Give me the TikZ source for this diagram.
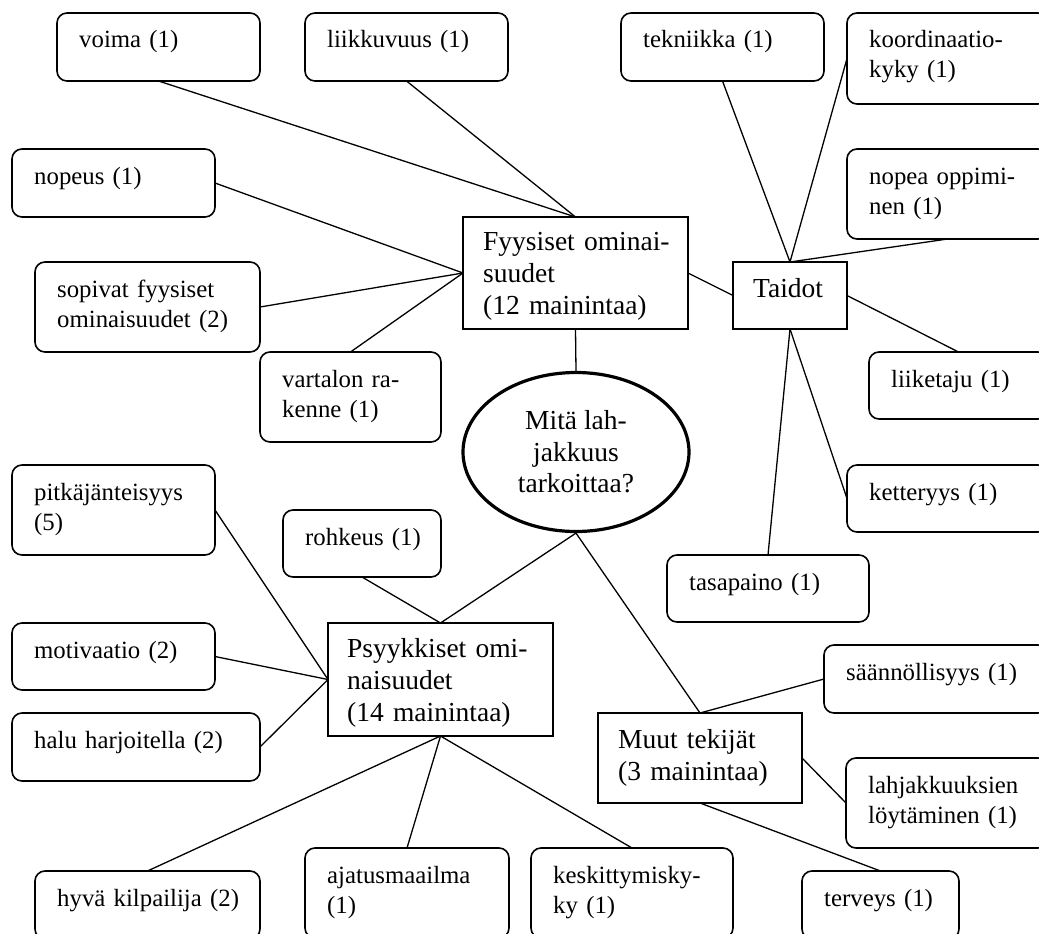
\documentclass[tikz,border=0pt]{standalone}
\usepackage{fontspec}
\setmainfont{Liberation Serif}
\usetikzlibrary{shapes.geometric}
\tikzset{
  rbox/.style={draw=black, line width=1.6pt, rounded corners=10pt, inner sep=0pt, outer sep=0pt, anchor=north west},
  sbox/.style={draw=black, line width=1.6pt, inner sep=0pt, outer sep=0pt, anchor=north west},
  smalltxt/.style={inner sep=0pt, anchor=base west, align=left, font=\fontsize{24.8}{30}\selectfont},
  bigtxt/.style={inner sep=0pt, anchor=base west, align=left, font=\fontsize{27.5}{32}\selectfont},
  conn/.style={draw=black, line width=1.3pt},
  mainq/.style={ellipse, draw=black, line width=3.2pt, inner sep=0pt, align=center, font=\fontsize{27.5}{31.5}\selectfont}
}
% name, left, top, right, bottom, text
\newcommand\roundbox[6]{%
  \node[rbox, minimum width=#4-#2, minimum height=#5-#3] (#1) at (#2,#3) {};
  \node[smalltxt, text width=#4-#2-30] (#1-t) at (#2+22,#3+35) {#6};
}
% name, left, top, right, bottom, text, xoff, yoff
\newcommand\sharpbox[8]{%
  \node[sbox, minimum width=#4-#2, minimum height=#5-#3] (#1) at (#2,#3) {};
  \node[bigtxt, text width=#4-#2-#7-4] (#1-t) at (#2+#7,#3+#8) {#6};
}
\begin{document}
\begin{tikzpicture}[x=1pt,y=-1pt]
\useasboundingbox (0,0) rectangle (1039,934);
\fill[white] (0,0) rectangle (1039,934);
\clip (0,0) rectangle (1039,934);

\roundbox{voima}{57}{13}{260}{81}{voima (1)}
\roundbox{liik}{305}{13}{508}{81}{liikkuvuus (1)}
\roundbox{tekn}{621}{13}{824}{81}{tekniikka (1)}
\roundbox{koord}{847}{13}{1048}{104}{koordinaatio-\\kyky (1)}
\roundbox{nopeus}{12}{149}{215}{217}{nopeus (1)}
\roundbox{nopea}{847}{149}{1048}{239}{nopea oppimi-\\nen (1)}
\roundbox{sopivat}{35}{262}{260}{352}{sopivat fyysiset\\ominaisuudet (2)}
\roundbox{vartalon}{260}{352}{441}{442}{vartalon ra-\\kenne (1)}
\roundbox{liiketaju}{869}{352}{1048}{419}{liiketaju (1)}
\roundbox{pitka}{12}{465}{215}{555}{pitkäjänteisyys\\(5)}
\roundbox{ketter}{847}{465}{1048}{532}{ketteryys (1)}
\roundbox{rohkeus}{283}{510}{441}{577}{rohkeus (1)}
\roundbox{tasap}{667}{555}{869}{622}{tasapaino (1)}
\roundbox{motiv}{12}{623}{215}{690}{motivaatio (2)}
\roundbox{saann}{824}{645}{1048}{713}{säännöllisyys (1)}
\roundbox{halu}{12}{713}{260}{781}{halu harjoitella (2)}
\roundbox{lahj}{846}{758}{1048}{848}{lahjakkuuksien\\löytäminen (1)}
\roundbox{ajatus}{305}{848}{509}{938}{ajatusmaailma\\(1)}
\roundbox{keskit}{531}{848}{733}{938}{keskittymisky-\\ky (1)}
\roundbox{hyva}{35}{871}{260}{939}{hyvä kilpailija (2)}
\roundbox{terveys}{802}{871}{959}{939}{terveys (1)}

\sharpbox{fyys}{463}{217}{688}{329}{Fyysiset ominai-\\suudet\\(12 mainintaa)}{20}{33}
\sharpbox{taidot}{733}{262}{847}{329}{Taidot}{20}{35}
\sharpbox{psyyk}{328}{623}{553}{736}{Psyykkiset omi-\\naisuudet\\(14 mainintaa)}{19}{34}
\sharpbox{muut}{598}{713}{802}{803}{Muut tekijät\\(3 mainintaa)}{20}{35}

\node[mainq, minimum width=226, minimum height=159] (q) at (576,452) {Mitä lah-\\jakkuus\\tarkoittaa?};

\draw[conn] (voima.south) -- (fyys.north);
\draw[conn] (liik.south) -- (fyys.north);
\draw[conn] (nopeus.east) -- (fyys.west);
\draw[conn] (sopivat.east) -- (fyys.west);
\draw[conn] (vartalon.north) -- (fyys.west);
\draw[conn] (fyys.east) -- (taidot.west);
\draw[conn] (fyys.south) -- (q.north);
\draw[conn] (tekn.south) -- (taidot.north);
\draw[conn] (koord.west) -- (taidot.north);
\draw[conn] (nopea.south) -- (taidot.north);
\draw[conn] (taidot.east) -- (liiketaju.north);
\draw[conn] (taidot.south) -- (tasap.north);
\draw[conn] (taidot.south) -- (ketter.west);
\draw[conn] (q.south) -- (psyyk.north);
\draw[conn] (q.south) -- (muut.north);
\draw[conn] (rohkeus.south) -- (psyyk.north);
\draw[conn] (pitka.east) -- (psyyk.west);
\draw[conn] (motiv.east) -- (psyyk.west);
\draw[conn] (halu.east) -- (psyyk.west);
\draw[conn] (psyyk.south) -- (hyva.north);
\draw[conn] (psyyk.south) -- (ajatus.north);
\draw[conn] (psyyk.south) -- (keskit.north);
\draw[conn] (muut.north) -- (saann.west);
\draw[conn] (muut.east) -- (lahj.west);
\draw[conn] (muut.south) -- (terveys.north);
\end{tikzpicture}
\end{document}
